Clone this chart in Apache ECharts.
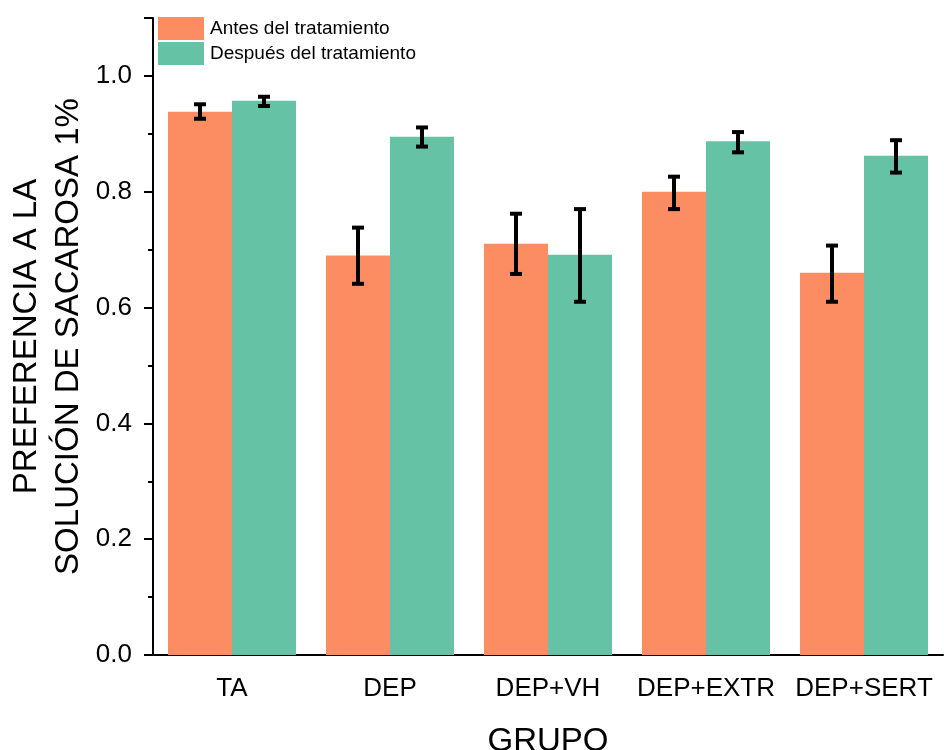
<!DOCTYPE html>
<html>
<head>
<meta charset="utf-8">
<script src="https://cdn.jsdelivr.net/npm/echarts@6/dist/echarts.min.js"></script>
<style>html,body{margin:0;padding:0;background:#fff}#c{width:944px;height:750px}</style>
</head>
<body>
<div id="c"></div>
<script>
const categories = ['TA', 'DEP', 'DEP+VH', 'DEP+EXTR', 'DEP+SERT'];
const seriesNames = ['Antes del tratamiento', 'Después del tratamiento'];
const antes = [0.938, 0.690, 0.710, 0.800, 0.660];
const antesLow = [0.926, 0.641, 0.658, 0.770, 0.610];
const antesHigh = [0.951, 0.738, 0.762, 0.826, 0.707];
const despues = [0.957, 0.895, 0.691, 0.887, 0.862];
const despuesLow = [0.948, 0.878, 0.610, 0.868, 0.833];
const despuesHigh = [0.964, 0.911, 0.770, 0.903, 0.889];
const yTicks = [0.0, 0.2, 0.4, 0.6, 0.8, 1.0];

const FONT = 'Liberation Sans, Arial, sans-serif';
const CAT_GAP = 0.19;
const colors = ['#FC8D62', '#66C2A5'];

function errSeries(low, high, which) {
  return {
    type: 'custom',
    xAxisIndex: 0,
    yAxisIndex: 0,
    z: 10,
    silent: true,
    data: categories.map((c, i) => [i, low[i], high[i]]),
    renderItem: function (params, api) {
      const i = api.value(0);
      const band = api.size([1, 0])[0];
      const barW = band * (1 - CAT_GAP) / 2;
      const pLow = api.coord([i, api.value(1)]);
      const pHigh = api.coord([i, api.value(2)]);
      const x = pLow[0] + (which === 0 ? -barW / 2 : barW / 2);
      const cap = 6;
      const st = { stroke: '#000', lineWidth: 4 };
      return {
        type: 'group',
        children: [
          { type: 'line', shape: { x1: x, y1: pLow[1], x2: x, y2: pHigh[1] }, style: st },
          { type: 'line', shape: { x1: x - cap, y1: pLow[1], x2: x + cap, y2: pLow[1] }, style: st },
          { type: 'line', shape: { x1: x - cap, y1: pHigh[1], x2: x + cap, y2: pHigh[1] }, style: st }
        ]
      };
    }
  };
}

const chart = echarts.init(document.getElementById('c'), null, { renderer: 'canvas' });
chart.setOption({
  animation: false,
  backgroundColor: '#fff',
  color: colors,
  grid: { left: 153, right: 1, top: 18, bottom: 95, containLabel: false, outerBoundsMode: 'none' },
  legend: {
    left: 158, top: 17, orient: 'vertical',
    itemWidth: 46, itemHeight: 23, itemGap: 2,
    icon: 'rect', padding: 0,
    textStyle: { fontFamily: FONT, fontSize: 19, color: '#000', padding: [0, 0, 0, 1] },
    data: seriesNames
  },
  xAxis: [{
    type: 'category', data: categories,
    axisLine: { lineStyle: { color: '#000', width: 2 } },
    axisTick: { alignWithLabel: true, length: 9, lineStyle: { color: '#000', width: 2 } },
    axisLabel: { fontFamily: FONT, fontSize: 26, color: '#000', margin: 21, interval: 0 },
    name: 'GRUPO', nameLocation: 'middle', nameGap: 70, nameMoveOverlap: false,
    nameTextStyle: { fontFamily: FONT, fontSize: 33, color: '#000' }
  }, {
    type: 'category', data: categories, position: 'bottom',
    axisLine: { show: false },
    axisTick: { alignWithLabel: false, length: 5, lineStyle: { color: '#000', width: 2 } },
    axisLabel: { show: false }
  }],
  yAxis: [{
    type: 'value', min: 0, max: 1.1, interval: 0.2,
    axisLine: { show: true, lineStyle: { color: '#000', width: 2 } },
    axisTick: { show: true, inside: false, length: 9, lineStyle: { color: '#000', width: 2 } },
    splitLine: { show: false },
    axisLabel: {
      fontFamily: FONT, fontSize: 26, color: '#000', margin: 21,
      formatter: v => yTicks.some(t => Math.abs(t - v) < 1e-9) ? v.toFixed(1) : ''
    },
    name: 'PREFERENCIA A LA\nSOLUCIÓN DE SACAROSA 1%', nameLocation: 'middle', nameGap: 63, nameMoveOverlap: false,
    nameTextStyle: { fontFamily: FONT, fontSize: 33, color: '#000', lineHeight: 42 }
  }, {
    type: 'value', min: 0, max: 1.1, interval: 0.1, position: 'left', offset: 0,
    axisLine: { show: false },
    axisTick: { show: true, inside: false, length: 5, lineStyle: { color: '#000', width: 2 } },
    splitLine: { show: false },
    axisLabel: { show: false }
  }],
  series: [
    { name: seriesNames[0], type: 'bar', data: antes, barGap: '0%', barCategoryGap: (CAT_GAP * 100) + '%', itemStyle: { color: colors[0] } },
    { name: seriesNames[1], type: 'bar', data: despues, barGap: '0%', barCategoryGap: (CAT_GAP * 100) + '%', itemStyle: { color: colors[1] } },
    errSeries(antesLow, antesHigh, 0),
    errSeries(despuesLow, despuesHigh, 1)
  ]
});
</script>
</body>
</html>
